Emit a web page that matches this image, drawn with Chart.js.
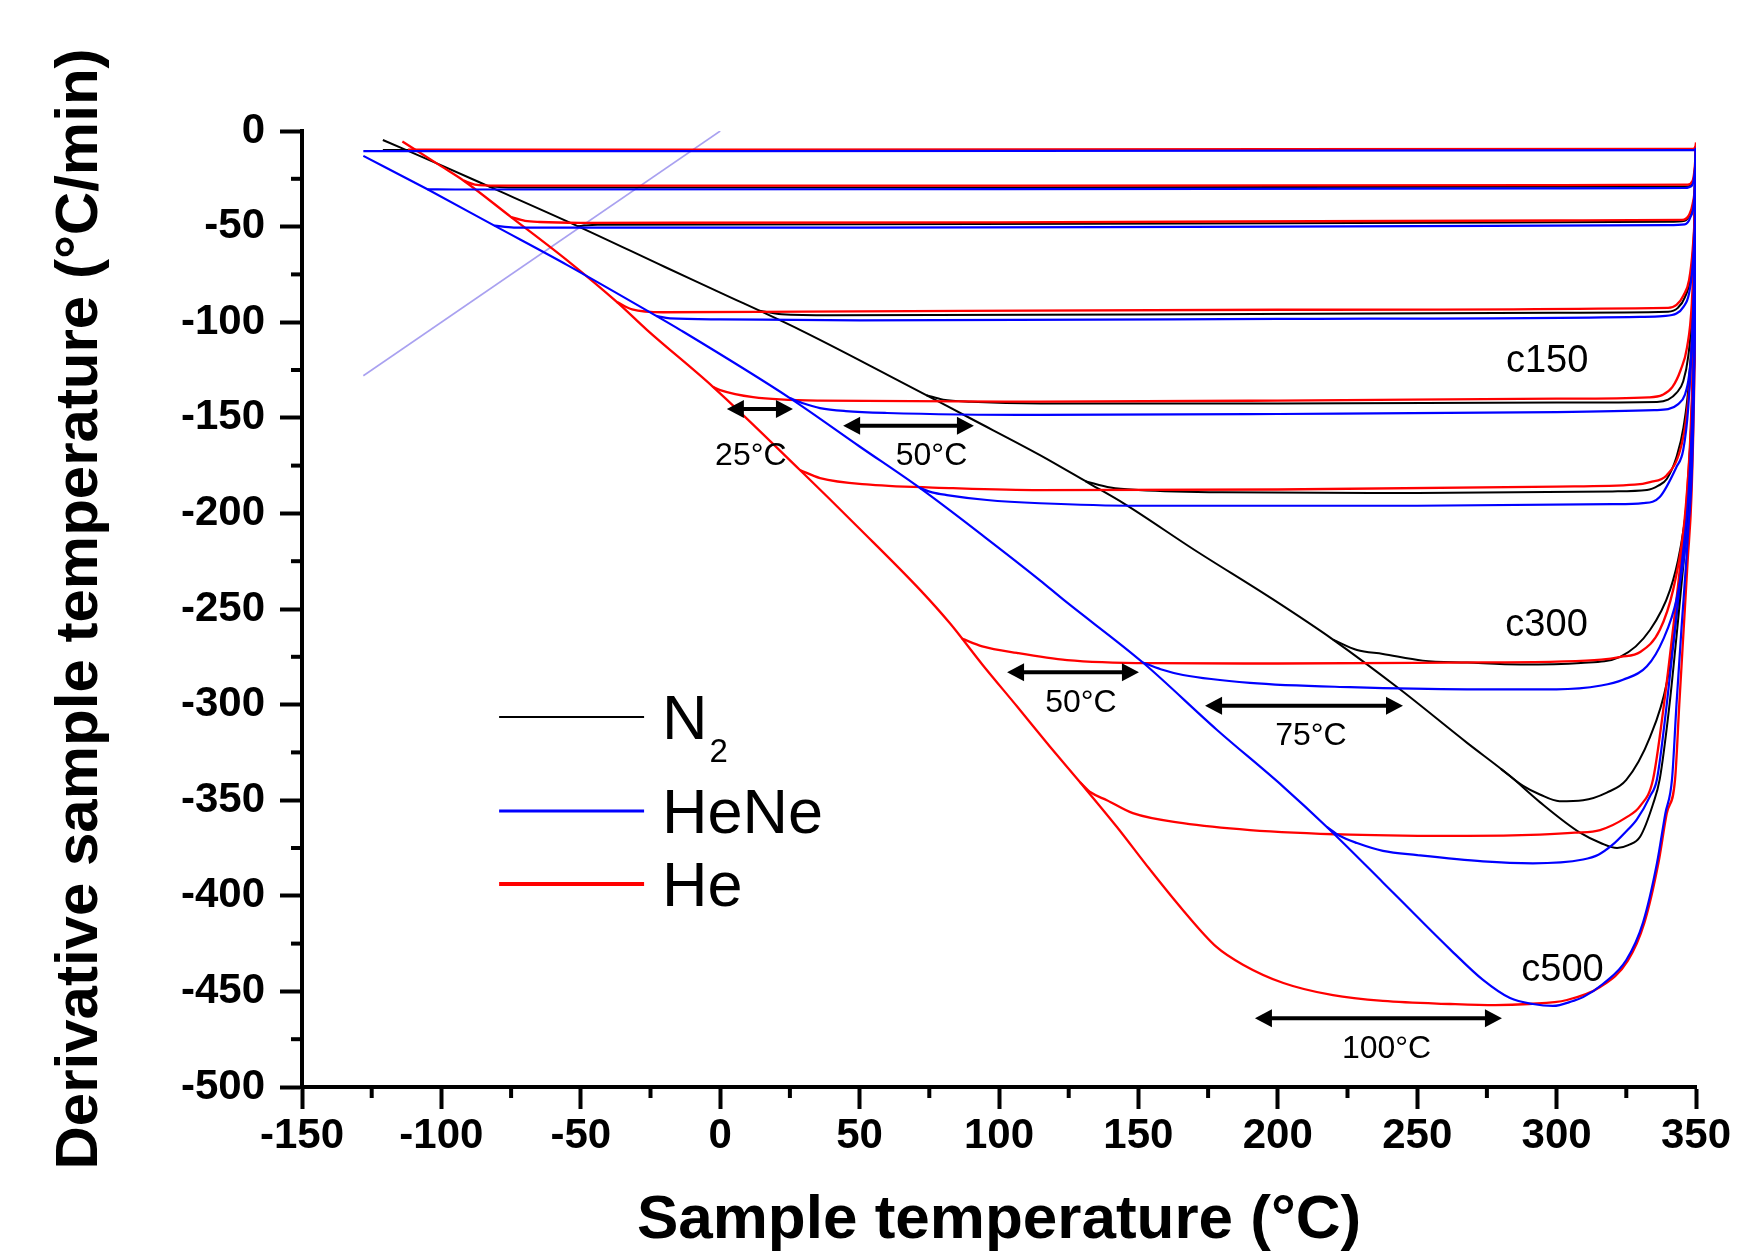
<!DOCTYPE html>
<html><head><meta charset="utf-8">
<script src="https://cdn.jsdelivr.net/npm/chart.js@4.4.1/dist/chart.umd.min.js"></script>
<style>html,body{margin:0;padding:0;background:#fff;} #wrap{width:1742px;height:1257px;position:relative;}</style>
</head><body><div id="wrap"><canvas id="c"></canvas></div>
<script>
// ---------- tick labels ----------
const xTicks = [-150,-100,-50,0,50,100,150,200,250,300,350];
const yTicks = [-500,-450,-400,-350,-300,-250,-200,-150,-100,-50,0];
const xMinor = [-125,-75,-25,25,75,125,175,225,275,325];
const yMinor = [-475,-425,-375,-325,-275,-225,-175,-125,-75,-25];

// ---------- N2 (black) runs : [sample temperature, derivative] ----------
const N2_10  = [[-121,-10],[0,-10],[200,-10],[350,-10]];
const N2_30  = [[-83,-29],[-76,-29.5],[100,-29.5],[300,-29.2],[347,-29],[348.8,-27],[349.6,-20],[350,-10]];
const N2_50  = [[-51,-49.8],[-44,-49],[50,-48.8],[200,-48.3],[340,-47.5],[346,-47],[348,-43],[349.3,-35],[350,-10]];
const N2_100 = [[14,-94],[22,-95.8],[40,-96.3],[150,-96],[300,-95],[340,-94.5],[343.5,-92.5],[346,-87],[348,-76],[349.3,-52],[350,-10]];
const N2_150 = [[74,-138.2],[80,-140.5],[90,-141.6],[115,-142.5],[200,-142.5],[300,-142],[336,-141.7],[340,-140.5],[343,-137],[345.4,-131],[347.2,-118],[348.7,-92],[349.6,-50],[350,-10]];
const N2_200 = [[131,-183.2],[140,-186.5],[150,-187.8],[180,-189],[250,-189.3],[320,-188.5],[332.4,-187.8],[336.5,-185.5],[339.5,-182],[343,-170.5],[345.5,-155],[347.5,-130],[349.2,-80],[350,-10]];
const N2_300 = [[219.8,-266],[228.4,-271.4],[237.7,-273.5],[252,-277],[268,-278],[287,-279],[308.7,-278.2],[322.8,-275],[333.5,-261],[340.7,-240],[344.3,-219],[346.8,-193],[348.6,-150],[349.6,-80],[350,-10]];
const N2_400 = [[280,-333.6],[288,-342.5],[294,-347],[301,-350.5],[309.5,-350],[318,-346],[325,-339.4],[333.5,-317],[339.5,-288.7],[343,-254],[345.4,-219],[347.2,-184],[348.8,-130],[349.7,-60],[350,-10]];
const N2_500 = [[-121,-4.7],[-100,-18],[-83,-29],[-50,-50.5],[-20,-71],[0,-84.5],[28.6,-104],[60,-127.5],[90,-150.5],[114.7,-169.5],[132,-184],[145,-195],[170,-219],[198.3,-245],[219.8,-266],[243.8,-292],[267.9,-320],[283,-337],[294,-351],[308.4,-367],[316,-372.5],[321.7,-375],[325.7,-373.5],[330,-369],[334.6,-352],[337,-339],[340.5,-300],[343.3,-260],[345.6,-225],[347.6,-190],[349,-140],[349.8,-70],[350,-10]];

// ---------- HeNe (blue) runs ----------
const HeNe_10  = [[-128,-10.5],[0,-10.5],[200,-10.3],[349.5,-10],[350,-9]];
const HeNe_30  = [[-105,-30.5],[-95,-30.6],[100,-30.4],[300,-30],[346,-29.8],[348.6,-28.5],[349.6,-20],[350,-10]];
const HeNe_50  = [[-81,-49.5],[-74,-50.5],[50,-50.5],[200,-50],[340,-49.2],[346,-48.8],[348,-45],[349.3,-36],[350,-10]];
const HeNe_100 = [[-23,-96.7],[-18,-98],[0,-98.5],[50,-99],[200,-98.3],[330,-97.2],[338,-96.8],[343,-95.5],[345.5,-92],[347.5,-85],[348.8,-70],[349.6,-45],[350,-10]];
const HeNe_150 = [[25,-139.7],[30,-142.5],[35.8,-144.9],[45,-146.5],[59.8,-147.5],[114.7,-148.5],[200,-148],[300,-147],[335,-146],[340,-145.5],[343.5,-143],[346,-138],[347.5,-128],[348.8,-105],[349.6,-60],[350,-10]];
const HeNe_200 = [[71.7,-186.8],[76,-189],[81.3,-190.4],[95.7,-193],[114.7,-194.7],[150,-196],[250,-196],[320,-195.2],[331,-194.6],[337,-191.4],[343,-175.7],[345.4,-167],[347.2,-145],[348.8,-100],[349.7,-50],[350,-10]];
const HeNe_300 = [[151.6,-278],[158,-281.5],[166,-284.5],[190,-288.6],[225.9,-290.9],[267.9,-292],[300,-292],[316,-290],[323.8,-287],[332.4,-280],[338.2,-266],[343,-245],[346.8,-210],[348.6,-175],[349.5,-110],[350,-10]];
const HeNe_400 = [[217.6,-364],[222,-368.5],[228.4,-372.4],[237.7,-376.5],[250,-378.7],[273.6,-382],[291.5,-383],[309.5,-381],[315,-378.5],[320,-373.4],[324.5,-367],[328.8,-360],[333.5,-348],[336,-339],[339.5,-300],[342.5,-260],[345,-225],[347.3,-190],[348.8,-140],[349.7,-70],[350,-10]];
const HeNe_500 = [[-128,-13],[-105,-30.5],[-81,-49.5],[-55,-70],[-22,-97.5],[-14.4,-104],[25,-139.7],[50,-165],[71.7,-186.8],[95,-212.5],[114.7,-235],[123,-245],[151.6,-278],[178,-313],[202,-343],[217.6,-364],[237.7,-393],[250,-411],[261.8,-428],[273.6,-444],[283.3,-453.5],[291.5,-456.6],[298.7,-457.6],[305.9,-455],[309.5,-453],[316.7,-446],[325,-433.6],[331,-414],[336,-383],[339,-357],[341.4,-339],[343,-300],[344.8,-260],[346.5,-225],[347.9,-190],[349.2,-130],[349.8,-70],[350,-10]];

// ---------- He (red) runs ----------
const He_10  = [[-112,-9.7],[0,-9.7],[200,-9.5],[349,-9.3],[349.8,-8],[350,-6]];
const He_30  = [[-92,-26],[-88,-28],[-80,-28.6],[100,-28.6],[300,-28.3],[347,-28],[348.8,-26],[349.6,-18],[350,-8]];
const He_50  = [[-75,-45],[-70,-47],[-64.6,-47.6],[-50,-48],[100,-47.8],[300,-46.8],[345,-46.5],[347.5,-44],[348.8,-38],[349.6,-28],[350,-8]];
const He_100 = [[-37,-89.5],[-31.6,-93.3],[-20.5,-94.8],[30,-94.5],[200,-93.5],[340,-92.5],[343,-91],[345.5,-86],[347.5,-78],[348.8,-62],[349.6,-40],[350,-8]];
const He_150 = [[-2.6,-133.8],[0,-135.5],[11.8,-139.2],[35.8,-141],[114.7,-141.5],[200,-141],[300,-140],[333,-139.3],[338,-138],[341.5,-134],[344.5,-125],[346.8,-113],[348.5,-90],[349.5,-50],[350,-8]];
const He_200 = [[28.6,-177.3],[35.8,-181.5],[53.7,-185],[83.5,-186.8],[114.7,-187.8],[200,-187.5],[300,-186],[328,-185],[333.5,-183.6],[339.5,-180],[344.3,-167],[346.5,-150],[348.2,-120],[349.3,-75],[350,-8]];
const He_300 = [[86.7,-265.5],[94,-269.5],[106.5,-273],[124.4,-276.7],[154,-278.3],[200,-278.5],[261.8,-278],[300,-277.5],[316,-276.5],[323,-275],[330,-272.5],[337,-261],[341.8,-240],[345.4,-210],[347,-184],[348.7,-140],[349.6,-80],[350,-8]];
const He_400 = [[129,-340.5],[133,-346],[138.7,-350],[148,-356.8],[166,-362],[190,-365.6],[225.9,-368],[268,-368.7],[294,-368],[306.6,-367],[315.6,-365.6],[325,-359],[330,-353],[334.6,-339],[338.5,-300],[341.8,-260],[344.5,-225],[346.8,-190],[348.5,-140],[349.6,-70],[350,-8]];
const He_500 = [[-114,-5.5],[-100,-18.5],[-92,-26],[-75,-45],[-55,-67.5],[-37,-89.5],[-26.3,-104],[-2.6,-133.8],[28.6,-177.3],[50,-208],[71.7,-240],[82.4,-257.5],[94,-279],[106.5,-301],[118.3,-322],[129,-340.5],[142.3,-364],[154,-386],[166,-407.5],[178,-426.7],[187.5,-436],[202,-445.6],[219.8,-452],[237.7,-455],[261.8,-456.6],[278,-457.2],[290,-456.6],[303.7,-454.5],[315.6,-447.7],[325.5,-434],[331.5,-414],[336.5,-383],[339.5,-357],[342.5,-339],[344,-300],[345.6,-260],[347,-225],[348.4,-190],[349.4,-130],[349.9,-70],[350,-10]];

// faint reference line (y = x)
const REF_LINE = [[-128,-128],[0,0]];

// ---------- annotations (data coordinates) ----------
const arrowSpans  = [[2.4,26.1,-145.4],[44.1,91.0,-154.1],[102.9,150.2,-283.1],[173.9,244.9,-300.6],[191.8,280.4,-464.1]];
const arrowTexts  = ['25°C','50°C','50°C','75°C','100°C'];
const arrowTextAt = [[11.0,-170.2],[75.8,-170.2],[129.4,-299.4],[211.9,-316.6],[239.0,-480.4]];
const curveTexts  = ['c150','c300','c500'];
const curveTextAt = [[296.6,-120.5],[296.4,-258.4],[302.1,-439.3]];
const legendNames = ['N','HeNe','He'];
const legendSubs  = ['2','',''];
const legendY     = [-306.5,-355.6,-393.8];
const legendX     = [-79.3,-27.3];

const FONT = "'Liberation Sans', Arial, Helvetica, sans-serif";
const BLACK = '#000000', BLUE = '#0000ff', RED = '#ff0000';

const groups = [
  {color: BLUE,  width: 2.2, runs: [HeNe_10,HeNe_30,HeNe_50,HeNe_100,HeNe_150,HeNe_200,HeNe_300,HeNe_400,HeNe_500]},
  {color: RED,   width: 2.3, runs: [He_10,He_30,He_50,He_100,He_150,He_200,He_300,He_400,He_500]},
  {color: BLACK, width: 2.0, runs: [N2_10,N2_30,N2_50,N2_100,N2_150,N2_200,N2_300,N2_400,N2_500]}
];
const groupNames = ['HeNe','He','N2'];

const datasets = [];
groups.forEach((g, gi) => {
  g.runs.forEach((r, ri) => {
    datasets.push({
      label: groupNames[gi] + ' run ' + (ri + 1),
      data: r.map(p => ({x: p[0], y: p[1]})),
      borderColor: g.color,
      borderWidth: g.width,
      pointRadius: 0,
      fill: false,
      cubicInterpolationMode: 'monotone'
    });
  });
});
datasets.push({
  label: 'reference',
  data: REF_LINE.map(p => ({x: p[0], y: p[1]})),
  borderColor: 'rgba(140,130,235,0.75)',
  borderWidth: 1.6,
  pointRadius: 0,
  fill: false
});

const overlay = {
  id: 'overlay',
  afterDraw(chart) {
    const {ctx, scales: {x, y}} = chart;
    ctx.save();
    // minor ticks
    ctx.strokeStyle = '#000'; ctx.lineWidth = 4; ctx.lineCap = 'butt';
    const bx = x.getPixelForValue(-150), by = y.getPixelForValue(-500);
    xMinor.forEach(v => { const p = x.getPixelForValue(v); ctx.beginPath(); ctx.moveTo(p, by); ctx.lineTo(p, by + 11); ctx.stroke(); });
    yMinor.forEach(v => { const p = y.getPixelForValue(v); ctx.beginPath(); ctx.moveTo(bx, p); ctx.lineTo(bx - 11, p); ctx.stroke(); });

    // arrows
    arrowSpans.forEach(([a, b, v]) => {
      const p1 = x.getPixelForValue(a), p2 = x.getPixelForValue(b), py = y.getPixelForValue(v);
      const head = 17, half = 9;
      ctx.strokeStyle = '#000'; ctx.lineWidth = 4;
      ctx.beginPath(); ctx.moveTo(p1 + head - 2, py); ctx.lineTo(p2 - head + 2, py); ctx.stroke();
      ctx.fillStyle = '#000';
      ctx.beginPath(); ctx.moveTo(p1, py); ctx.lineTo(p1 + head, py - half); ctx.lineTo(p1 + head, py + half); ctx.closePath(); ctx.fill();
      ctx.beginPath(); ctx.moveTo(p2, py); ctx.lineTo(p2 - head, py - half); ctx.lineTo(p2 - head, py + half); ctx.closePath(); ctx.fill();
    });
    ctx.fillStyle = '#000';
    ctx.textAlign = 'center'; ctx.textBaseline = 'middle';
    ctx.font = '32px ' + FONT;
    arrowTexts.forEach((t, i) => ctx.fillText(t, x.getPixelForValue(arrowTextAt[i][0]), y.getPixelForValue(arrowTextAt[i][1])));
    ctx.font = '38px ' + FONT;
    curveTexts.forEach((t, i) => ctx.fillText(t, x.getPixelForValue(curveTextAt[i][0]), y.getPixelForValue(curveTextAt[i][1])));

    // legend
    const colors = [BLACK, BLUE, RED];
    const widths = [2, 3, 4];
    const lx1 = x.getPixelForValue(legendX[0]), lx2 = x.getPixelForValue(legendX[1]);
    legendNames.forEach((n, i) => {
      const ly = y.getPixelForValue(legendY[i]);
      ctx.strokeStyle = colors[i]; ctx.lineWidth = widths[i];
      ctx.beginPath(); ctx.moveTo(lx1, ly); ctx.lineTo(lx2, ly); ctx.stroke();
      ctx.fillStyle = '#000';
      ctx.textAlign = 'left'; ctx.textBaseline = 'alphabetic';
      ctx.font = '63px ' + FONT;
      const tx = lx2 + 18;
      ctx.fillText(n, tx, ly + 22);
      if (legendSubs[i]) {
        const w = ctx.measureText(n).width;
        ctx.font = '33px ' + FONT;
        ctx.fillText(legendSubs[i], tx + w + 2, ly + 45);
      }
    });
    ctx.restore();
  }
};

new Chart(document.getElementById('c'), {
  type: 'line',
  data: {datasets},
  options: {
    responsive: true,
    maintainAspectRatio: false,
    animation: false,
    events: [],
    layout: {padding: {left: 0, top: 131, right: 46, bottom: 0}},
    plugins: {legend: {display: false}, tooltip: {enabled: false}, title: {display: false}},
    scales: {
      x: {
        type: 'linear', min: -150, max: 350,
        afterBuildTicks: s => { s.ticks = xTicks.map(v => ({value: v})); },
        afterFit: s => { s.height = 170; },
        border: {display: true, color: '#000', width: 4},
        grid: {display: true, drawOnChartArea: false, drawTicks: true, tickLength: 22, tickWidth: 4, tickColor: '#000'},
        ticks: {color: '#000', padding: 2, maxRotation: 0, autoSkip: false, font: {family: FONT, size: 42, weight: 'bold', lineHeight: 1.2}},
        title: {display: true, text: 'Sample temperature (°C)', color: '#000', padding: {top: 0, bottom: 5}, font: {family: FONT, size: 62, weight: 'bold', lineHeight: 1}}
      },
      y: {
        type: 'linear', min: -500, max: 0,
        afterBuildTicks: s => { s.ticks = yTicks.map(v => ({value: v})); },
        afterFit: s => { s.width = 302; },
        border: {display: true, color: '#000', width: 4},
        grid: {display: true, drawOnChartArea: false, drawTicks: true, tickLength: 22, tickWidth: 4, tickColor: '#000'},
        ticks: {color: '#000', padding: 15, autoSkip: false, font: {family: FONT, size: 42, weight: 'bold'}},
        title: {display: true, text: 'Derivative sample temperature (°C/min)', color: '#000', padding: {top: 50, bottom: 0}, font: {family: FONT, size: 60, weight: 'bold', lineHeight: 1}}
      }
    }
  },
  plugins: [overlay]
});
</script>
</body></html>
